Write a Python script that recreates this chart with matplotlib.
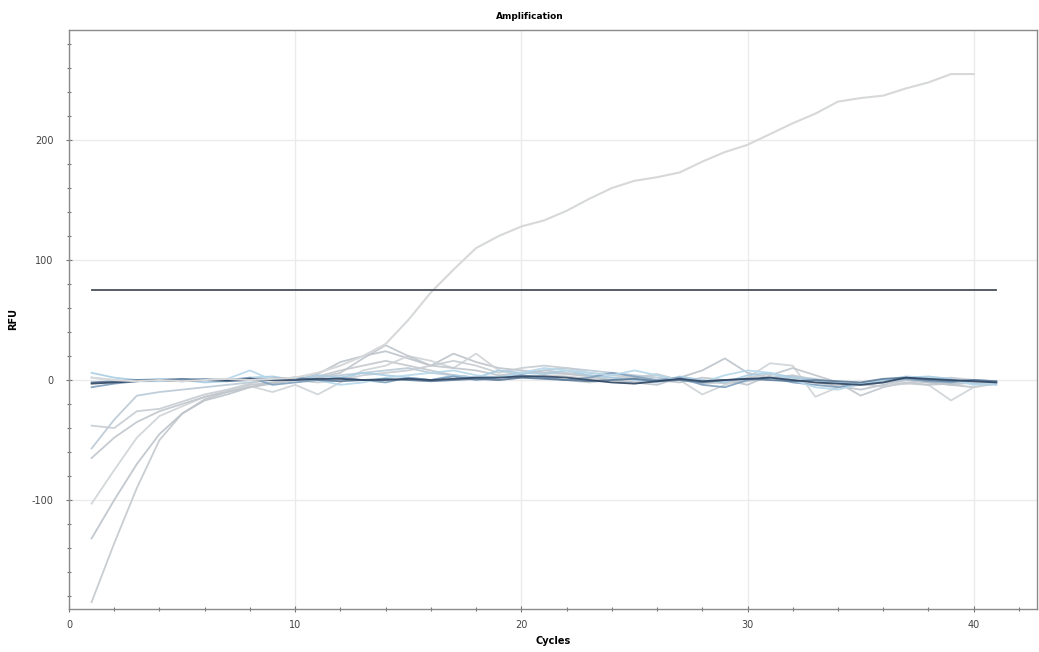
import numpy as np
import matplotlib.pyplot as plt
from matplotlib.ticker import MultipleLocator

plt.rcParams["axes.unicode_minus"] = False

cycles = list(range(1, 42))
threshold = 75

# amplified well, cycles 1..40
amp = [2, 0, -1, 0, -1, 0, 1, 0, 1, 2, 6, 12, 20, 30, 50, 73, 92, 110, 120, 128,
       133, 141, 151, 160, 166, 169, 173, 182, 190, 196, 205, 214, 222, 232, 235,
       237, 243, 248, 255, 255]

# baseline wells, cycles 1..41
well_a = [-185, -136, -90, -50, -28, -16, -10, -4, -2, 0, 3, 8, 12, 16, 12, 8, 4, 2, 0, 2, 4,
          3, 1, 0, -2, 0, 2, 0, -3, -1, 2, 4, 0, -6, -4, -2, 0, -2, -4, -2, -2]
well_b = [-132, -100, -70, -45, -28, -17, -12, -6, -2, 0, 5, 15, 20, 24, 18, 12, 22, 15, 10, 8,
          6, 5, 3, 0, -2, -4, 2, 8, 18, 6, 2, 0, -2, -5, -8, -4, 0, -2, -4, -6, -3]
well_c = [-103, -75, -48, -30, -22, -14, -9, -5, -10, -4, -12, -2, 8, 12, 20, 16, 10, 22, 8, 4,
          2, 0, -2, 0, 2, 4, 0, -12, -4, 2, 14, 12, -14, -6, -4, -2, -3, -4, -17, -6, -2]
well_d = [-65, -48, -35, -26, -20, -14, -10, -6, -3, 0, 2, 6, 18, 29, 20, 12, 10, 8, 4, 6,
          8, 6, 4, 2, 1, 0, -2, 2, 0, -4, 4, 10, 4, -2, -13, -6, -2, -4, -3, -2, -2]
well_e = [-57, -33, -13, -10, -8, -6, -4, -2, 0, 1, 2, 4, 6, 8, 10, 6, 4, 2, 3, 5,
          8, 10, 8, 6, 4, 2, 0, -2, -1, 0, 2, 3, 1, -2, -4, -2, 0, 1, -1, 0, -1]
well_f = [-38, -40, -26, -24, -18, -12, -8, -3, 2, 0, -2, 0, 4, 6, 8, 12, 16, 12, 6, 10,
          12, 10, 6, 4, 2, 5, 0, -3, -2, 2, 5, 2, 0, -3, -4, -5, -3, 0, 2, 0, -1]
well_g = [6, 2, 0, 1, 0, -2, -1, 2, 3, 0, 4, 2, 6, 4, 2, 0, 4, 2, 8, 6,
          5, 8, 4, 2, 0, -2, 3, 0, -2, 4, 6, 2, 0, -2, -4, 0, 2, 3, 1, -3, -4]
well_h = [-6, -3, -1, 0, 0, 1, 0, 2, -4, -2, 0, 2, 0, -2, 2, 0, 3, 0, 2, 4,
          2, 0, 2, 6, 3, 0, 2, -4, -6, 0, 2, -2, -4, -6, -3, 0, 1, -1, -2, 0, -2]
well_i = [2, 0, -1, -1, 0, -1, 1, 8, 0, 2, 0, -4, -2, 2, 4, 6, 8, 4, 2, 6,
          10, 8, 6, 4, 8, 4, 0, -2, 4, 8, 6, 0, -6, -8, -3, 0, 3, 2, 0, -4, -3]
well_j = [-2, -1, 0, 0, 1, 0, -1, 0, 1, 2, 0, -1, 0, 1, 0, -1, 0, 1, 0, 2,
          1, 0, -1, 0, 1, -1, 0, -2, 0, 1, 0, -1, 0, -1, -2, 1, 2, 0, -1, 0, -1]
well_k = [-3, -2, -1, 0, -1, 0, 0, 1, 0, 0, 1, 1, 0, 0, 1, 0, 1, 2, 2, 3,
          3, 2, 0, -2, -3, -1, 1, -1, 0, 1, 2, 0, -2, -3, -4, -2, 2, 1, 0, -1, -2]

wells = [well_a, well_b, well_c, well_d, well_e, well_f, well_g, well_h, well_i, well_j, well_k]
well_colors = ["#c4c8cc", "#bcc3ca", "#cfd3d6", "#c0c6cc", "#b9c9d6", "#c6ccd2",
               "#a9cde3", "#7f9fbd", "#b5d7ea", "#5b7a99", "#2e4461"]

fig = plt.figure(figsize=(10.39, 6.52), dpi=100)
ax = fig.add_axes([69/1039, 1 - 609/652, (1037 - 69)/1039, (609 - 30)/652])

for w, c in zip(wells, well_colors):
    ax.plot(cycles, w, color=c, lw=1.3, alpha=0.9)
ax.plot(cycles[:len(amp)], amp, color="#d6d8da", lw=1.5)
ax.plot([cycles[0], cycles[-1]], [threshold, threshold], color="#4a5058", lw=1.3)

ax.set_xlim(0, 42.8)
ax.set_ylim(-190.8, 291.7)
ax.xaxis.set_major_locator(MultipleLocator(10))
ax.xaxis.set_minor_locator(MultipleLocator(2))
ax.yaxis.set_major_locator(MultipleLocator(100))
ax.yaxis.set_minor_locator(MultipleLocator(20))
ax.grid(True, which="major", color="#ebebeb", lw=1.0)
ax.set_axisbelow(True)
ax.tick_params(which="both", direction="inout", length=4, width=0.8, color="#777777",
               labelsize=7, labelcolor="#444444")
ax.tick_params(which="minor", length=3)
ax.tick_params(axis="y", pad=9)
ax.tick_params(axis="x", pad=6)
for s in ax.spines.values():
    s.set_color("#8a8a8a")
    s.set_linewidth(1.0)

ax.set_title("Amplification", fontsize=6.5, fontweight="bold", x=0.476, pad=8)
ax.set_xlabel("Cycles", fontsize=7, fontweight="bold", labelpad=4)
ax.set_ylabel("RFU", fontsize=7, fontweight="bold", labelpad=10)

fig.savefig("out.png", dpi=100)
